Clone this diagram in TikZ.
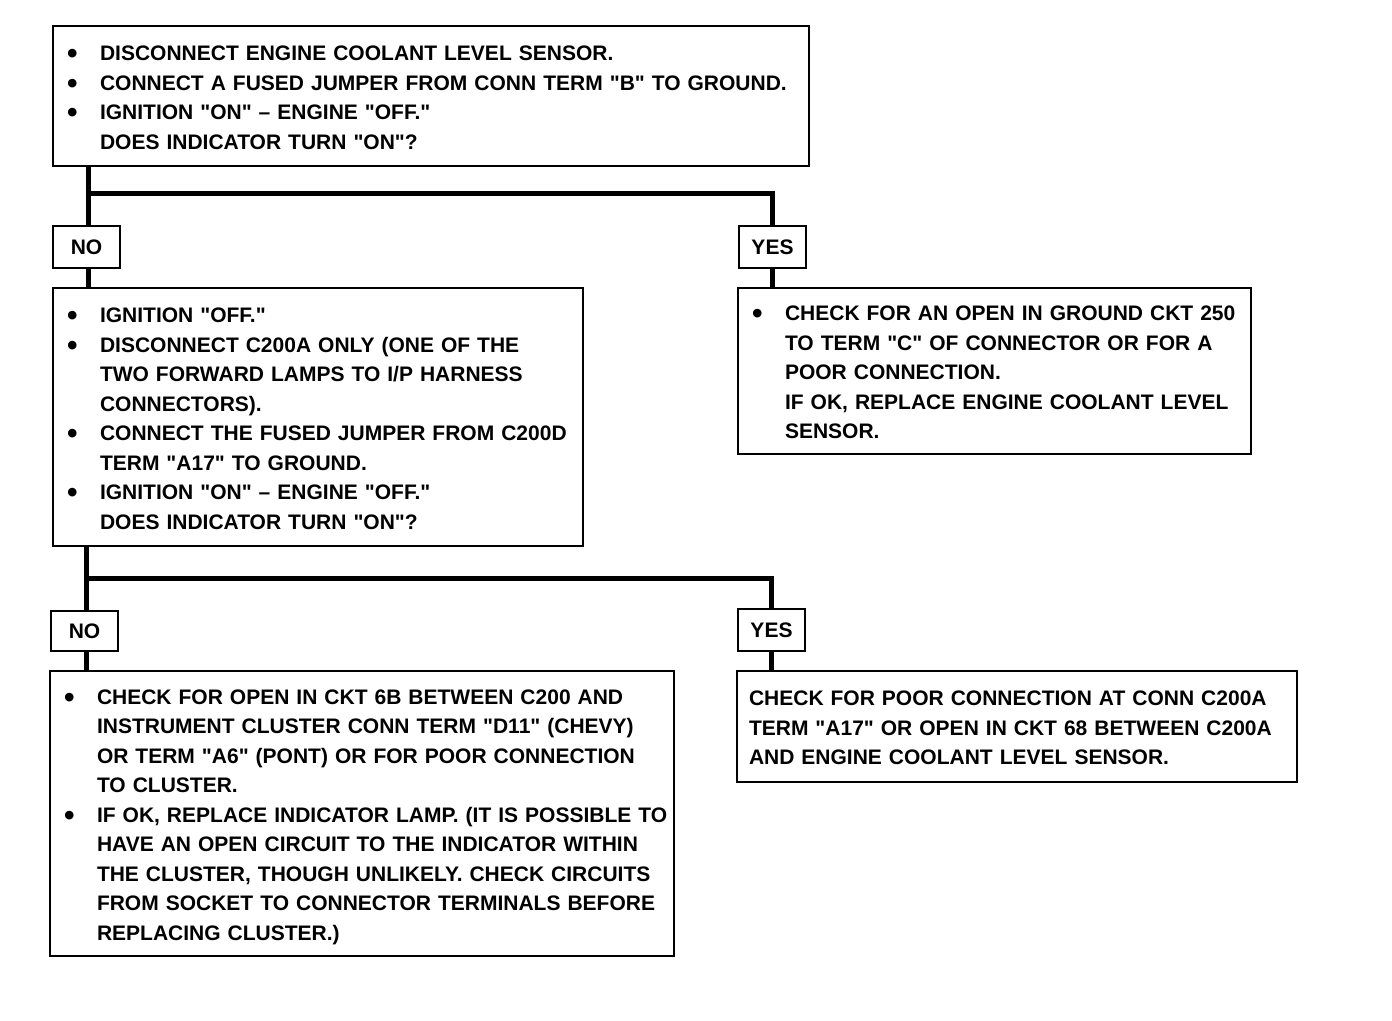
\documentclass[tikz,border=0pt]{standalone}
\usepackage{fontspec}
\setmainfont{Liberation Sans}[Ligatures=TeXOff]
\usetikzlibrary{calc}
\newcommand{\q}{"}
\newcommand{\bl}{\makebox[33pt][l]{\fontsize{30}{29.5}\selectfont\raisebox{-3pt}{•}}}
\newcommand{\ind}{\makebox[33pt][l]{}}
\newcommand{\lines}[1]{\raisebox{-3pt}[\height][\depth]{\begin{tabular}{@{}l@{}}#1\end{tabular}}}
\begin{document}
\begin{tikzpicture}[x=1pt,y=-1pt,
  txt/.style={font=\bfseries\fontsize{21}{29.5}\selectfont},
  box/.style={draw,line width=2pt,rectangle,inner xsep=14pt,inner ysep=0pt,anchor=north west,align=left,txt},
  lab/.style={draw,line width=2pt,rectangle,inner sep=0pt,minimum width=67pt,minimum height=42pt,anchor=north west,txt},
  conn/.style={line width=5pt,line join=miter}]
\useasboundingbox (0,0) rectangle (1392,1020);
\fill[white] (0,0) rectangle (1392,1020);

\node[box,minimum width=756pt,minimum height=140pt,text width=728pt] (b1) at (52,25)
{\lines{\bl DISCONNECT ENGINE COOLANT LEVEL SENSOR.\\
 \bl CONNECT A FUSED JUMPER FROM CONN TERM \q B\q{} TO GROUND.\\
 \bl IGNITION \q ON\q{} – ENGINE \q OFF.\q\\
 \ind DOES INDICATOR TURN \q ON\q ?}};

\node[lab] (n1) at (52,225) {NO};
\node[lab] (y1) at (738,225) {YES};

\node[box,minimum width=530pt,minimum height=258pt,text width=502pt] (b2) at (52,287)
{\lines{\bl IGNITION \q OFF.\q\\
 \bl DISCONNECT C200A ONLY (ONE OF THE\\
 \ind TWO FORWARD LAMPS TO I/P HARNESS\\
 \ind CONNECTORS).\\
 \bl CONNECT THE FUSED JUMPER FROM C200D\\
 \ind TERM \q A17\q{} TO GROUND.\\
 \bl IGNITION \q ON\q{} – ENGINE \q OFF.\q\\
 \ind DOES INDICATOR TURN \q ON\q ?}};

\node[box,minimum width=513pt,minimum height=166pt,text width=485pt] (b3) at (737,287)
{\lines{\bl CHECK FOR AN OPEN IN GROUND CKT 250\\
 \ind TO TERM \q C\q{} OF CONNECTOR OR FOR A\\
 \ind POOR CONNECTION.\\
 \ind IF OK, REPLACE ENGINE COOLANT LEVEL\\
 \ind SENSOR.}};

\node[lab,minimum height=40pt] (n2) at (50,610) {NO};
\node[lab] (y2) at (737,608) {YES};

\node[box,minimum width=624pt,minimum height=285pt,text width=596pt] (b4) at (49,670)
{\lines{\bl CHECK FOR OPEN IN CKT 6B BETWEEN C200 AND\\
 \ind INSTRUMENT CLUSTER CONN TERM \q D11\q{} (CHEVY)\\
 \ind OR TERM \q A6\q{} (PONT) OR FOR POOR CONNECTION\\
 \ind TO CLUSTER.\\
 \bl IF OK, REPLACE INDICATOR LAMP. (IT IS POSSIBLE TO\\
 \ind HAVE AN OPEN CIRCUIT TO THE INDICATOR WITHIN\\
 \ind THE CLUSTER, THOUGH UNLIKELY. CHECK CIRCUITS\\
 \ind FROM SOCKET TO CONNECTOR TERMINALS BEFORE\\
 \ind REPLACING CLUSTER.)}};

\node[box,inner xsep=12pt,minimum width=560pt,minimum height=111pt,text width=536pt] (b5) at (736,670)
{\lines{CHECK FOR POOR CONNECTION AT CONN C200A\\
 TERM \q A17\q{} OR OPEN IN CKT 68 BETWEEN C200A\\
 AND ENGINE COOLANT LEVEL SENSOR.}};

\coordinate (j1) at ($(n1.north)+(1.5,-32)$);
\coordinate (j2) at ($(n2.north)+(2,-32)$);
\draw[conn] (b1.south -| j1) -- (j1 |- n1.north);
\draw[conn] (j1) -| (y1.north);
\draw[conn] (j1 |- n1.south) -- (j1 |- b2.north);
\draw[conn] (y1.south) -- (y1.south |- b3.north);
\draw[conn] (b2.south -| j2) -- (j2 |- n2.north);
\draw[conn] (j2) -| (y2.north);
\draw[conn] (j2 |- n2.south) -- (j2 |- b4.north);
\draw[conn] (y2.south) -- (y2.south |- b5.north);
\end{tikzpicture}
\end{document}
